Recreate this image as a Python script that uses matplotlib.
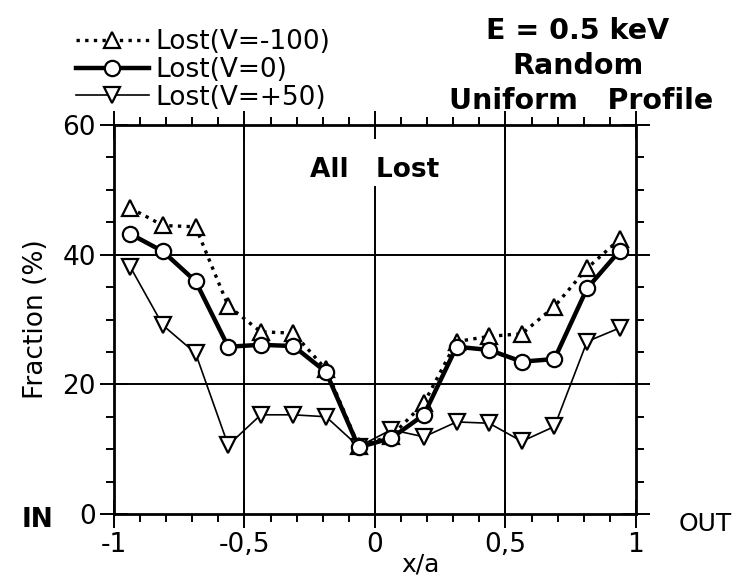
import matplotlib
matplotlib.use("Agg")
import matplotlib.pyplot as plt
from matplotlib.ticker import MultipleLocator, FixedLocator

plt.rcParams['font.family'] = ['DejaVu Sans']

x = [-0.9375, -0.8125, -0.6875, -0.5625, -0.4375, -0.3125, -0.1875, -0.0625,
     0.0625, 0.1875, 0.3125, 0.4375, 0.5625, 0.6875, 0.8125, 0.9375]
lost_vm100 = [47.2, 44.5, 44.3, 32.1, 28.1, 27.9, 22.3, 10.5,
              12.0, 17.1, 26.6, 27.4, 27.8, 32.0, 37.9, 42.4]
lost_v0 = [43.2, 40.5, 35.9, 25.8, 26.1, 25.9, 21.9, 10.3,
           11.7, 15.3, 25.8, 25.3, 23.5, 23.9, 34.8, 40.6]
lost_vp50 = [38.1, 29.1, 24.8, 10.6, 15.3, 15.3, 15.0, 10.4,
             13.0, 11.9, 14.2, 14.0, 11.2, 13.5, 26.6, 28.7]

xticks = [-1, -0.5, 0, 0.5, 1]
xticklabels = ['-1', '-0,5', '0', '0,5', '1']
yticks = [0, 20, 40, 60]
yticklabels = ['0', '20', '40', '60']

fig = plt.figure(figsize=(7.34, 5.77), dpi=100)
ax = fig.add_axes([114/734, 1-514/577, (636-114)/734, (514-125)/577])

FS = 19
# grid lines
for gx in [-0.5, 0.5]:
    ax.axvline(gx, color='black', lw=1.4, zorder=1)
ax.axvline(0, ymax=50.5/60, color='black', lw=1.4, zorder=1)
for gy in [20, 40]:
    ax.axhline(gy, color='black', lw=1.4, zorder=1)

ax.plot(x, lost_vm100, linestyle=(0, (1, 1.6)), color='black', lw=2.4,
        marker='^', ms=11, mfc='white', mec='black', mew=1.6,
        label='Lost(V=-100)', zorder=3)
ax.plot(x, lost_v0, '-', color='black', lw=3.2,
        marker='o', ms=11, mfc='white', mec='black', mew=1.6,
        label='Lost(V=0)', zorder=4)
ax.plot(x, lost_vp50, '-', color='black', lw=1.2,
        marker='v', ms=11, mfc='white', mec='black', mew=1.6,
        label='Lost(V=+50)', zorder=3)

ax.set_xlim(-1, 1)
ax.set_ylim(0, 60)
ax.xaxis.set_major_locator(FixedLocator(xticks))
ax.set_xticklabels(xticklabels)
ax.yaxis.set_major_locator(FixedLocator(yticks))
ax.set_yticklabels(yticklabels)
ax.xaxis.set_minor_locator(MultipleLocator(0.1))
ax.yaxis.set_minor_locator(MultipleLocator(5))
ax.tick_params(which='major', direction='inout', length=20, width=1.4,
               top=True, right=True, labelsize=FS, pad=3)
ax.tick_params(which='minor', direction='out', length=6, width=1.4,
               top=True, right=True)
for s in ax.spines.values():
    s.set_linewidth(2)

ax.set_ylabel('Fraction (%)', fontsize=FS, labelpad=10)
fig.text(420/734, 0.5/577, 'x/a', fontsize=FS - 1, ha='center', va='bottom')

ax.text(0.0, 53.1, 'All   Lost', fontsize=FS, ha='center', va='center',
        fontweight='bold', zorder=5)

fig.text(22/734, 1-520/577, 'IN', fontsize=FS, ha='left', va='center', fontweight='bold')
fig.text(732/734, 1-524/577, 'OUT', fontsize=FS - 1, ha='right', va='center')

TS = 20.5
fig.text(578/734, 1-31/577, 'E = 0.5 keV', fontsize=TS, ha='center', va='center', fontweight='bold')
fig.text(578/734, 1-66/577, 'Random', fontsize=TS, ha='center', va='center', fontweight='bold')
fig.text(581/734, 1-101/577, 'Uniform   Profile', fontsize=TS, ha='center', va='center', fontweight='bold')

fig.legend(loc='upper left', bbox_to_anchor=(76/734, 1-29/577), frameon=False,
           fontsize=FS, handlelength=2.75, handletextpad=0.25, labelspacing=0.07,
           borderpad=0, borderaxespad=0)

fig.savefig('out.png', dpi=100)
